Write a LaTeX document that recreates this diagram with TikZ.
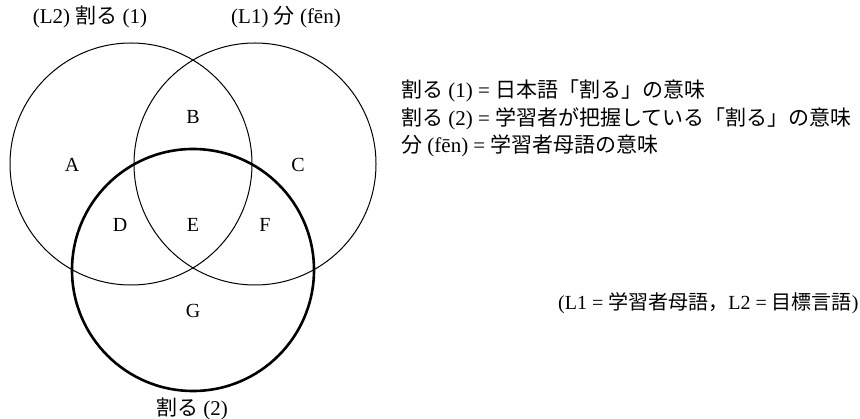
\documentclass[tikz,border=0pt]{standalone}
\usepackage{fontspec}
\setmainfont{Liberation Serif}
\newfontfamily\jpfont{Noto Sans CJK JP}
\newcommand{\ja}[1]{{\jpfont #1}}
\usetikzlibrary{positioning}

\begin{document}
\begin{tikzpicture}[
  x=1pt, y=-1pt,
  setline/.style={line width=1pt, draw=black},
  learnerline/.style={line width=2.6pt, draw=black},
  region/.style={font=\fontsize{20}{24}\selectfont, inner sep=0pt},
  setlabel/.style={font=\fontsize{21}{25}\selectfont, inner sep=0pt},
  note/.style={font=\fontsize{21}{25}\selectfont, inner sep=0pt, anchor=west}
]
  \useasboundingbox (0,0) rectangle (860,419);

  % centres of the three meaning sets
  \coordinate (jpset) at (131,164);
  \coordinate (cnset) at (255,164);
  \coordinate (lnset) at (193,270);

  \draw[setline] (jpset) circle[radius=121pt];
  \draw[setline] (cnset) circle[radius=121pt];
  \draw[learnerline] (lnset) circle[radius=121pt];

  % regions
  \node[region] (ra) at (72,165) {A};
  \node[region] (rb) at (193,117) {B};
  \node[region] (rc) at (298,165) {C};
  \node[region] (rd) at (120,225) {D};
  \node[region] (re) at (193,225) {E};
  \node[region] (rf) at (265,225) {F};
  \node[region] (rg) at (193,311) {G};

  % set names
  \node[setlabel] (jplabel) at (90,17) {(L2) \ja{割る} (1)};
  \node[setlabel] (cnlabel) at (286,17) {(L1) \ja{分} (fēn)};
  \node[setlabel] (lnlabel) at (192,409) {\ja{割る} (2)};

  % legend
  \node[note] (n1) at (401,91) {\ja{割る} (1) = \ja{日本語「割る」の意味}};
  \node[note, below=5pt of n1.south west, anchor=north west] (n2) {\ja{割る} (2) = \ja{学習者が把握している「割る」の意味}};
  \node[note, below=5pt of n2.south west, anchor=north west] (n3) {\ja{分} (fēn) = \ja{学習者母語の意味}};
  \node[note, font=\fontsize{20}{24}\selectfont] (n4) at (558,303) {(L1 = \ja{学習者母語，}L2 = \ja{目標言語})};
\end{tikzpicture}
\end{document}
